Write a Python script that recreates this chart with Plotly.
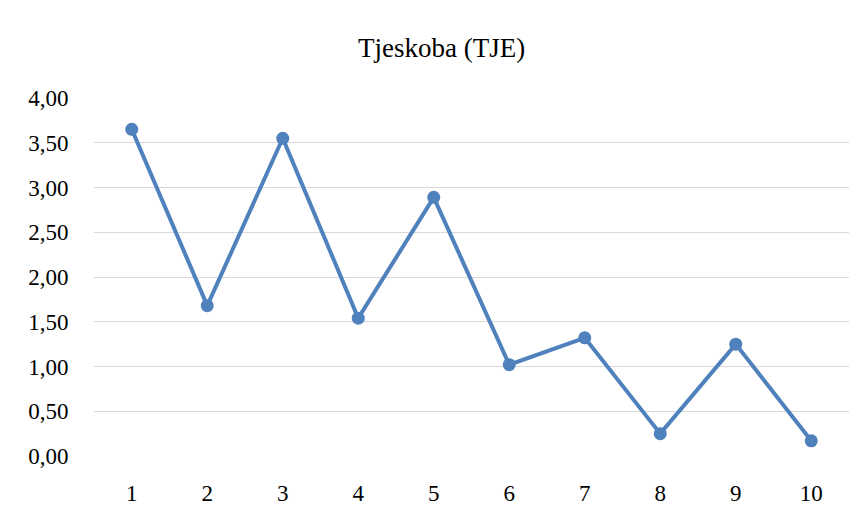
import plotly.graph_objects as go

categories = ["1", "2", "3", "4", "5", "6", "7", "8", "9", "10"]
values = [3.65, 1.68, 3.55, 1.54, 2.89, 1.02, 1.32, 0.25, 1.25, 0.17]
y_ticks = [0, 0.5, 1, 1.5, 2, 2.5, 3, 3.5, 4]
y_tick_labels = ["0,00", "0,50", "1,00", "1,50", "2,00", "2,50", "3,00", "3,50", "4,00"]

OFF = 8  # page body margin
W, H = 867 - OFF, 513 - OFF
L, R, T, B = 94 - OFF, 18, 98 - OFF, 57
pw, ph = W - L - R, H - T - B

def px(x):
    return (x - OFF - L) / pw

def py(y):
    return (H - B - (y - OFF)) / ph

fig = go.Figure()
fig.add_trace(go.Scatter(
    x=categories, y=values, mode="lines+markers",
    line=dict(color="#4F81BD", width=4),
    marker=dict(color="#4F81BD", size=13),
    showlegend=False,
))

fig.update_layout(
    width=W, height=H,
    margin=dict(l=L, r=R, t=T, b=B),
    plot_bgcolor="white",
    xaxis=dict(
        type="category", range=[-0.5, 9.5], showgrid=False, zeroline=False,
        automargin=False,
        ticks="outside", ticklen=16, tickcolor="rgba(0,0,0,0)",
        tickfont=dict(family="Liberation Serif", size=23, color="black"),
    ),
    yaxis=dict(
        range=[0, 4], tickvals=y_ticks, ticktext=y_tick_labels,
        showgrid=True, gridcolor="#d9d9d9", zeroline=False,
        automargin=False,
        ticks="outside", ticklen=20, tickcolor="rgba(0,0,0,0)",
        tickfont=dict(family="Liberation Serif", size=23, color="black"),
    ),
    annotations=[dict(
        text="Tjeskoba (TJE)", xref="paper", yref="paper",
        x=px(441), y=py(48), xanchor="center", yanchor="middle",
        showarrow=False, font=dict(family="Liberation Serif", size=27, color="black"),
    )],
)

fig.write_html("out.html")
